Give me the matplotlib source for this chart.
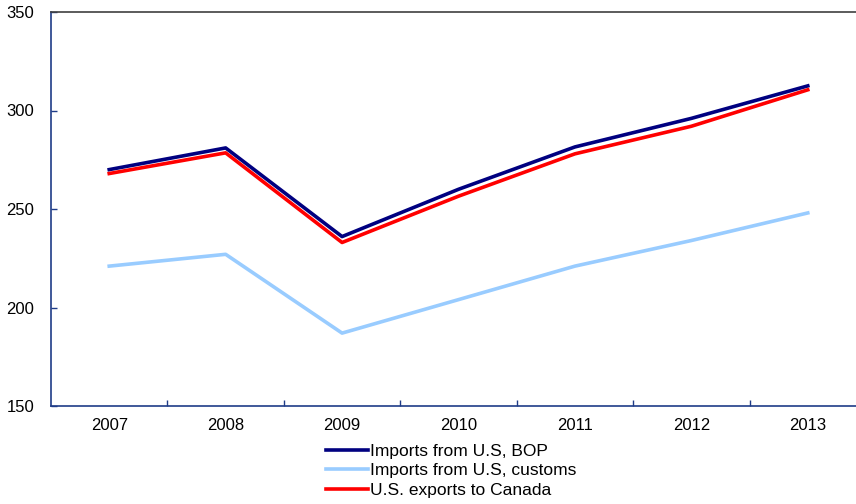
import matplotlib.pyplot as plt
import numpy as np

plt.rcParams['font.family'] = ['Liberation Sans', 'DejaVu Sans']

# Canada imports from / U.S. exports, billions
years = ['2007', '2008', '2009', '2010', '2011', '2012', '2013']
imports_bop = [270, 281, 236, 260, 281.5, 296, 312.5]
imports_customs = [221, 227, 187, 204, 221, 234, 248]
us_exports = [268, 278.5, 233, 256.5, 278, 292, 310.5]

fig = plt.figure(figsize=(8.56, 5.04), dpi=100)
ax = fig.add_axes([51 / 856, 98 / 504, 815 / 856, 394 / 504])

x = np.arange(len(years))
l1, = ax.plot(x, imports_bop, color='#000080', lw=2.6, label='Imports from U.S, BOP')
l2, = ax.plot(x, imports_customs, color='#99CCFF', lw=2.6, label='Imports from U.S, customs')
l3, = ax.plot(x, us_exports, color='#FF0000', lw=2.6, label='U.S. exports to Canada')

ax.set_xlim(-0.5, len(years) - 0.5)
ax.set_ylim(150, 350)
ax.set_yticks([150, 200, 250, 300, 350])
ax.set_xticks(x)
ax.set_xticklabels(years)
ax.set_xticks(x[:-1] + 0.5, minor=True)

ax.tick_params(axis='x', which='major', length=0, pad=9, labelsize=12)
ax.tick_params(axis='x', which='minor', direction='in', length=4, width=1, color='#1F3C88')
ax.tick_params(axis='y', direction='in', length=4, width=1, color='#1F3C88', pad=12, labelsize=12)

for side in ['left', 'bottom']:
    ax.spines[side].set_color('#1F3C88')
    ax.spines[side].set_linewidth(1.2)
ax.spines['top'].set_color('#404040')
ax.spines['top'].set_linewidth(1.2)
ax.spines['right'].set_visible(False)

fig.legend(handles=[l1, l2, l3], loc='upper left', bbox_to_anchor=(326 / 856, 1 - 444 / 504),
           frameon=False, fontsize=12.5, handlelength=2.4, handletextpad=0.15,
           labelspacing=0.24, borderpad=0, borderaxespad=0)

fig.savefig('out.png', dpi=100)
